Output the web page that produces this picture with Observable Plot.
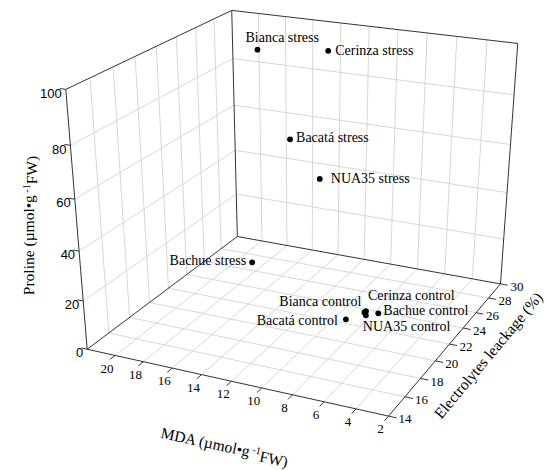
<!DOCTYPE html>
<html><head><meta charset="utf-8">
<script src="https://cdn.jsdelivr.net/npm/d3@7"></script>
<script src="https://cdn.jsdelivr.net/npm/@observablehq/plot@0.6"></script>
<style>body{margin:0;background:#fff}</style>
</head><body><div id="chart"></div>
<script>
// ---- data ----
const names = ["Bianca stress","Cerinza stress","Bacatá stress","NUA35 stress","Bachue stress",
  "Bianca control","Cerinza control","Bachue control","NUA35 control","Bacatá control"];
const mda = [18.2, 13.2, 15.3, 12.6, 15.0, 6.2, 6.1, 5.3, 6.1, 7.4];
const electrolytes = [27, 27, 26, 25, 21, 19, 19, 19, 19, 19];
const proline = [92, 95, 60, 48.5, 22.3, 18.1, 18.7, 18.8, 17.0, 13.8];
const mdaTicks = [2,4,6,8,10,12,14,16,18,20];
const elTicks = [14,16,18,20,22,24,26,28,30];
const prolineTicks = [0,20,40,60,80,100];
const mdaDomain = [2,22], elDomain = [14,30], prolineDomain = [0,100];

// ---- frame geometry (cube corners in unit coords -> page pixels) ----
const frameCorners = [
  [1,0,0, 86.7,348],[1,0,1, 65,89.3],[0,0,0, 388.3,416],
  [0,1,0, 500,283],[0,1,1, 517,43],[1,1,0, 236.6,236.7],[1,1,1, 231.7,9.5]];

function solve(A,b){const n=b.length;A=A.map(r=>r.slice());b=b.slice();
  for(let i=0;i<n;i++){let p=i;for(let k=i+1;k<n;k++)if(Math.abs(A[k][i])>Math.abs(A[p][i]))p=k;
    [A[i],A[p]]=[A[p],A[i]];[b[i],b[p]]=[b[p],b[i]];
    for(let k=i+1;k<n;k++){const f=A[k][i]/A[i][i];for(let j=i;j<n;j++)A[k][j]-=f*A[i][j];b[k]-=f*b[i];}}
  const x=new Array(n).fill(0);for(let i=n-1;i>=0;i--){let s=b[i];for(let j=i+1;j<n;j++)s-=A[i][j]*x[j];x[i]=s/A[i][i];}return x;}
const M=[],R=[];
for(const [X,Y,Z,u,v] of frameCorners){M.push([X,Y,Z,1,0,0,0,0,-u*X,-u*Y,-u*Z]);R.push(u);
  M.push([0,0,0,0,X,Y,Z,1,-v*X,-v*Y,-v*Z]);R.push(v);}
const ATA=Array.from({length:11},(_,i)=>Array.from({length:11},(_,j)=>d3.sum(M,r=>r[i]*r[j])));
const ATb=Array.from({length:11},(_,i)=>d3.sum(M,(r,k)=>r[i]*R[k]));
const P=solve(ATA,ATb);
function proj(X,Y,Z){const w=P[8]*X+P[9]*Y+P[10]*Z+1;return [(P[0]*X+P[1]*Y+P[2]*Z+P[3])/w,(P[4]*X+P[5]*Y+P[6]*Z+P[7])/w];}
const nx=v=>(v-mdaDomain[0])/(mdaDomain[1]-mdaDomain[0]);
const ny=v=>(v-elDomain[0])/(elDomain[1]-elDomain[0]);
const nz=v=>(v-prolineDomain[0])/(prolineDomain[1]-prolineDomain[0]);
const seg=(a,b)=>{const p=proj(...a),q=proj(...b);return {x1:p[0],y1:p[1],x2:q[0],y2:q[1]};};

// grid, box edges, ticks
const grid=[], edges=[], ticks=[];
for(const t of mdaTicks.slice(1)){const X=nx(t);grid.push(seg([X,0,0],[X,1,0]),seg([X,1,0],[X,1,1]));}
for(const t of elTicks.slice(1,-1)){const Y=ny(t);grid.push(seg([0,Y,0],[1,Y,0]),seg([1,Y,0],[1,Y,1]));}
for(const t of prolineTicks.slice(1,-1)){const Z=nz(t);grid.push(seg([0,1,Z],[1,1,Z]),seg([1,1,Z],[1,0,Z]));}
edges.push(seg([1,0,0],[0,0,0]),seg([0,0,0],[0,1,0]),seg([0,1,0],[1,1,0]),seg([1,1,0],[1,0,0]),
  seg([1,0,0],[1,0,1]),seg([1,0,1],[1,1,1]),seg([1,1,1],[0,1,1]),seg([1,1,0],[1,1,1]),seg([0,1,0],[0,1,1]));
for(const t of mdaTicks) ticks.push(seg([nx(t),0,0],[nx(t),-0.03,0]));
for(const t of elTicks) ticks.push(seg([0,ny(t),0],[-0.025,ny(t),0]));
for(const t of prolineTicks) ticks.push(seg([1,0,nz(t)],[1.02,0,nz(t)]));

const mdaLab=mdaTicks.map(t=>{const [x,y]=proj(nx(t),0,0);return {x,y,t};});
const elLab=elTicks.map(t=>{const [x,y]=proj(0,ny(t),0);return {x,y,t};});
const prLab=prolineTicks.map(t=>{const [x,y]=proj(1,0,nz(t));return {x,y,t};});

const pts=names.map((n,i)=>{const [x,y]=proj(nx(mda[i]),ny(electrolytes[i]),nz(proline[i]));return {name:n,x,y};});
const labelPlacement=[
  {anchor:"start",dx:-12,dy:-12},{anchor:"start",dx:7,dy:0},{anchor:"start",dx:6,dy:-2},{anchor:"start",dx:11,dy:0},
  {anchor:"end",dx:-6,dy:-2},{anchor:"end",dx:-3,dy:-11},{anchor:"start",dx:2,dy:-16},{anchor:"start",dx:5,dy:-3},
  {anchor:"start",dx:-3,dy:11},{anchor:"end",dx:-8,dy:1}];
const serif="Liberation Serif";
const labelMarks=["start","end"].map(a=>Plot.text(pts.map((p,i)=>({...p,...labelPlacement[i]})).filter(d=>d.anchor===a),
  {x:d=>d.x+d.dx,y:d=>d.y+d.dy,text:"name",textAnchor:a,fontSize:14,fontFamily:serif,fill:"#000"}));

const titles=[
  {text:"Proline (µmol•g-1FW)",x:29,y:225,rotate:-90},
  {text:"MDA (µmol•g-1FW)",x:224,y:446,rotate:12},
  {text:"Electrolytes leackage (%)",x:488,y:355,rotate:-50}];

const chart=Plot.plot({
  width:549,height:470,margin:0,
  x:{type:"identity",axis:null},y:{type:"identity",axis:null},
  style:{background:"#fff"},
  marks:[
    Plot.link(grid,{x1:"x1",y1:"y1",x2:"x2",y2:"y2",stroke:"#d2d2d2",strokeWidth:0.9}),
    Plot.link(edges,{x1:"x1",y1:"y1",x2:"x2",y2:"y2",stroke:"#333",strokeWidth:1}),
    Plot.link(ticks,{x1:"x1",y1:"y1",x2:"x2",y2:"y2",stroke:"#333",strokeWidth:1}),
    Plot.text(mdaLab,{x:"x",y:"y",text:d=>String(d.t),dx:-8,dy:13,fontSize:13,fontFamily:serif,fill:"#000"}),
    Plot.text(elLab,{x:"x",y:"y",text:d=>String(d.t),dx:10,dy:3,textAnchor:"start",fontSize:13,fontFamily:serif,fill:"#000"}),
    Plot.text(prLab,{x:"x",y:"y",text:d=>String(d.t),dx:-4,dy:4,textAnchor:"end",fontSize:13,fontFamily:"Liberation Sans",fill:"#000"}),
    Plot.dot(pts,{x:"x",y:"y",r:2.9,fill:"#000",stroke:"none"}),
    ...labelMarks,
    Plot.text(titles,{x:"x",y:"y",text:"text",rotate:"rotate",fontSize:15.5,fontFamily:serif,fill:"#000"})
  ]
});
// superscript "-1" in unit titles
d3.select(chart).selectAll("text").each(function(){
  const t=this.textContent;const i=t.indexOf("g-1");
  if(i<0)return;
  const el=d3.select(this);el.text(null);
  el.append("tspan").text(t.slice(0,i+1));
  el.append("tspan").attr("dy","-0.45em").attr("font-size","0.65em").text(" -1");
  el.append("tspan").attr("dy","0.45em").text(t.slice(i+3));
});
document.getElementById("chart").appendChild(chart);
</script></body></html>
